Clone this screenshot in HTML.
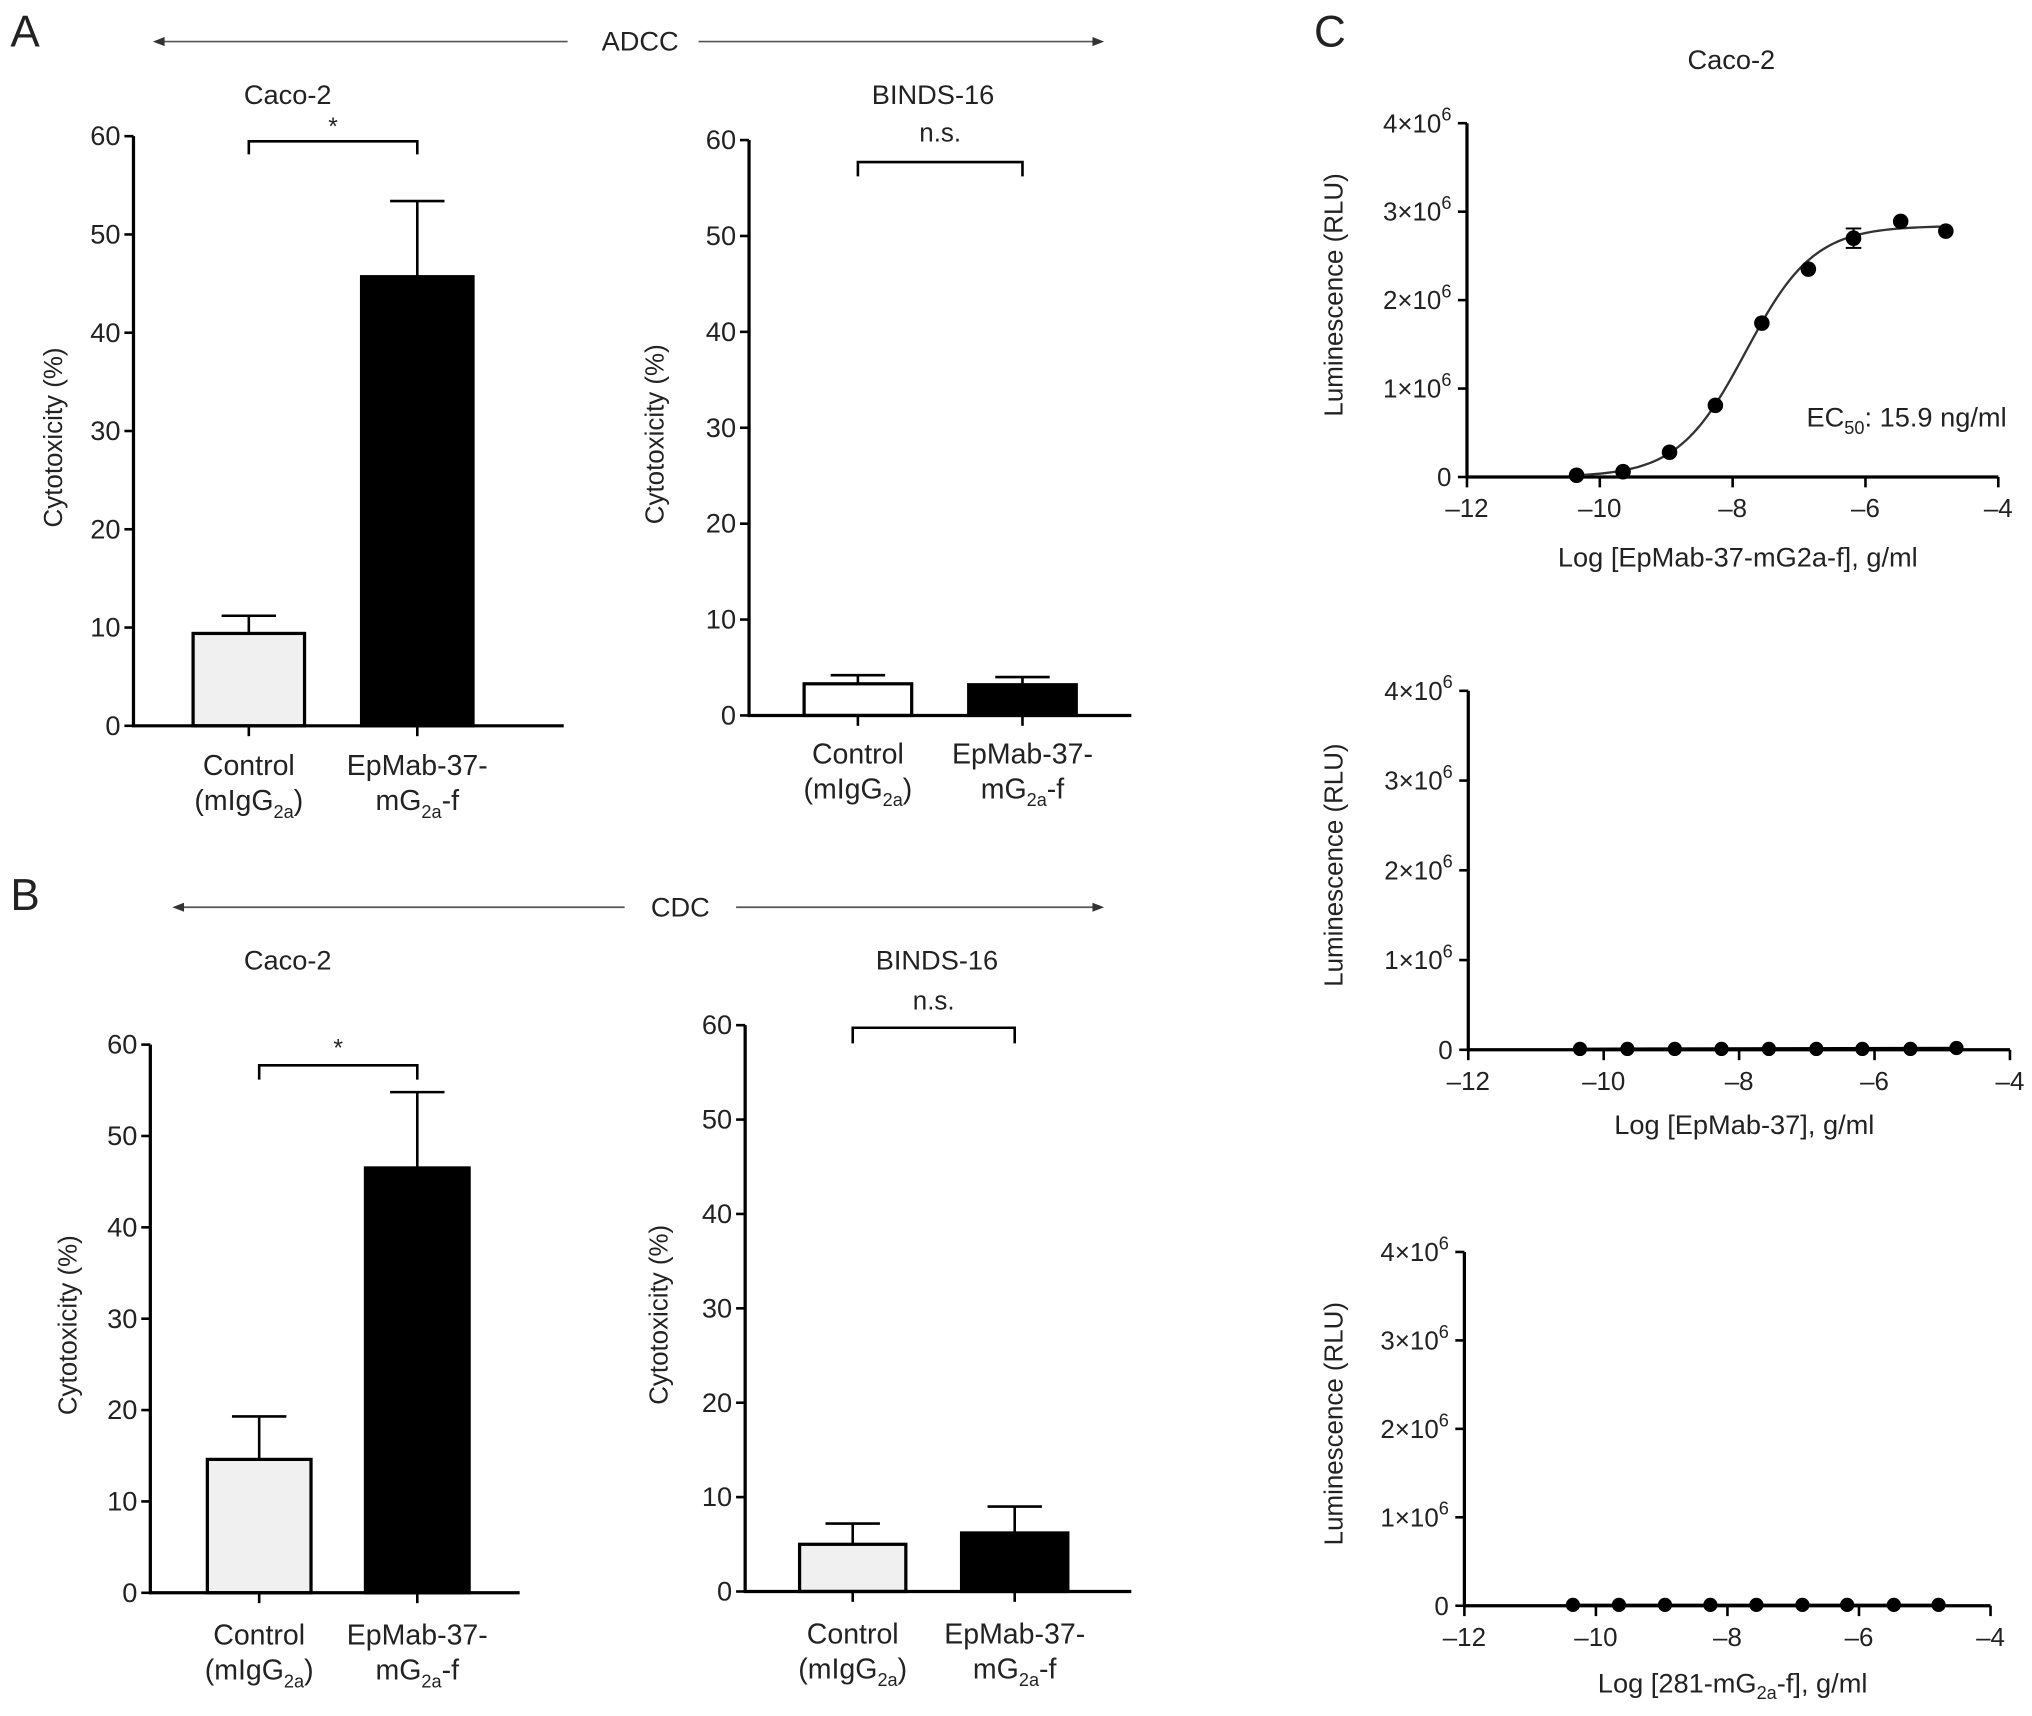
<!DOCTYPE html>
<html><head><meta charset="utf-8"><title>ADCC / CDC cytotoxicity and luminescence figure</title>
<style>
html,body{margin:0;padding:0;background:#fff;}
svg{display:block;font-family:"Liberation Sans",Arial,sans-serif;}
text{fill:#222;}
</style></head>
<body>
<svg id="fig" width="2032" height="1716" viewBox="0 0 1568 1324" xmlns="http://www.w3.org/2000/svg">
  <rect x="0" y="0" width="1568" height="1324" fill="#fff"/>
  <text x="8" y="36" font-size="34">A</text>
  <text x="8" y="702" font-size="34">B</text>
  <text x="1014" y="36" font-size="34">C</text>
  <g>
    <line x1="124" y1="32" x2="438" y2="32" stroke="#555" stroke-width="1.3"/>
    <polygon points="118,32 127,28.5 127,35.5" fill="#333"/>
    <line x1="539" y1="32" x2="846" y2="32" stroke="#555" stroke-width="1.3"/>
    <polygon points="852,32 843,28.5 843,35.5" fill="#333"/>
    <text x="494" y="39" font-size="21" text-anchor="middle">ADCC</text>
  </g>
  <g>
    <line x1="139" y1="700" x2="482" y2="700" stroke="#555" stroke-width="1.3"/>
    <polygon points="133,700 142,696.5 142,703.5" fill="#333"/>
    <line x1="568" y1="700" x2="846" y2="700" stroke="#555" stroke-width="1.3"/>
    <polygon points="852,700 843,696.5 843,703.5" fill="#333"/>
    <text x="525" y="707" font-size="21" text-anchor="middle">CDC</text>
  </g>
  <g id="bars"></g>
  <g id="curves"></g>
</svg>
<script>
// ---------- Bar chart data ----------
const groupLabels = ["Control", "EpMab-37-"];
const yTicks = [0, 10, 20, 30, 40, 50, 60];
const adccCacoMeans = [9.4, 45.7];
const adccCacoSem = [1.8, 7.7];
const adccBindsMeans = [3.3, 3.2];
const adccBindsSem = [0.9, 0.8];
const cdcCacoMeans = [14.6, 46.5];
const cdcCacoSem = [4.7, 8.3];
const cdcBindsMeans = [5.0, 6.2];
const cdcBindsSem = [2.2, 2.8];
const sigLabels = ["*", "n.s.", "*", "n.s."];
// ---------- Dose-response data ----------
const logConc = [-10.35, -9.65, -8.95, -8.26, -7.56, -6.86, -6.18, -5.47, -4.79];
const lumFc = [0.02, 0.06, 0.28, 0.81, 1.74, 2.35, 2.70, 2.89, 2.78];
const lumFcErr = [0, 0, 0, 0, 0, 0, 0.11, 0, 0];
const lumParent = [0.01, 0.01, 0.01, 0.01, 0.01, 0.01, 0.01, 0.01, 0.02];
const lumIsotype = [0.01, 0.01, 0.01, 0.01, 0.01, 0.01, 0.01, 0.01, 0.01];
const xTicksLog = [-12, -10, -8, -6, -4];
const yTicksLum = [0, 1, 2, 3, 4];
const fitTop = 2.84, fitBottom = 0, fitLogEC50 = -7.80, fitHill = 0.85;

const NS = "http://www.w3.org/2000/svg";
function mk(tag, attrs, parent) {
  const e = document.createElementNS(NS, tag);
  for (const k in attrs) e.setAttribute(k, attrs[k]);
  parent.appendChild(e);
  return e;
}
const barsG = document.getElementById("bars");
const curvesG = document.getElementById("curves");

const barPanels = [
  {key: "adcc-caco2", title: "Caco-2", means: adccCacoMeans, sem: adccCacoSem, sig: sigLabels[0],
   ax: 103, y0: 560, ytop: 105, xEnd: 435, cx: [192, 322], bw: 86, fills: ["#f0f0f0", "#000"],
   titleX: 222, titleY: 80, brY: 109, brDrop: 10, sigY: 104, ylabX: 41, labDy: 38},
  {key: "adcc-binds16", title: "BINDS-16", means: adccBindsMeans, sem: adccBindsSem, sig: sigLabels[1],
   ax: 578, y0: 552, ytop: 108, xEnd: 873, cx: [662, 789], bw: 83, fills: ["#fff", "#000"],
   titleX: 720, titleY: 80, brY: 125, brDrop: 11, sigY: 109, ylabX: 505, labDy: 37},
  {key: "cdc-caco2", title: "Caco-2", means: cdcCacoMeans, sem: cdcCacoSem, sig: sigLabels[2],
   ax: 116, y0: 1229, ytop: 806, xEnd: 401, cx: [200, 322], bw: 80, fills: ["#f0f0f0", "#000"],
   titleX: 222, titleY: 748, brY: 822, brDrop: 11, sigY: 815, ylabX: 52, labDy: 40},
  {key: "cdc-binds16", title: "BINDS-16", means: cdcBindsMeans, sem: cdcBindsSem, sig: sigLabels[3],
   ax: 575, y0: 1228, ytop: 791, xEnd: 873, cx: [658, 783], bw: 82, fills: ["#f0f0f0", "#000"],
   titleX: 723, titleY: 748, brY: 793, brDrop: 12, sigY: 779, ylabX: 508, labDy: 40}
];

barPanels.forEach(function (p) {
  const g = mk("g", {}, barsG);
  
  
  const ys = function (v) { return p.y0 - (v / 60) * (p.y0 - p.ytop); };
  const t = mk("text", {x: p.titleX, y: p.titleY, "font-size": 21, "text-anchor": "middle"}, g);
  t.textContent = p.title;
  
  
  p.means.forEach(function (m, i) {
    const top = ys(m + p.sem[i]);
    const eb = mk("line", {x1: p.cx[i], y1: ys(m), x2: p.cx[i], y2: top, stroke: "#000", "stroke-width": 2}, g);
    
    
    mk("line", {x1: p.cx[i] - 21, y1: top, x2: p.cx[i] + 21, y2: top, stroke: "#000", "stroke-width": 2}, g);
    const r = mk("rect", {x: p.cx[i] - p.bw / 2, y: ys(m), width: p.bw, height: p.y0 - ys(m),
      fill: p.fills[i], stroke: "#000", "stroke-width": 2.5}, g);
    
    
  });
  const ya = mk("line", {x1: p.ax, y1: p.ytop, x2: p.ax, y2: p.y0 + 1, stroke: "#000", "stroke-width": 2.5}, g);
  
  
  const xa = mk("line", {x1: p.ax - 1, y1: p.y0, x2: p.xEnd, y2: p.y0, stroke: "#000", "stroke-width": 2.5}, g);
  
  
  yTicks.forEach(function (v) {
    mk("line", {x1: p.ax - 7, y1: ys(v), x2: p.ax, y2: ys(v), stroke: "#000", "stroke-width": 2}, g);
    const tl = mk("text", {x: p.ax - 10, y: ys(v) + 7, "font-size": 21, "text-anchor": "end"}, g);
    tl.textContent = v;
    
    
  });
  const yl = mk("text", {x: 0, y: 0, "font-size": 20, "text-anchor": "middle",
    transform: "translate(" + (p.ylabX + 7) + "," + ((p.y0 + p.ytop) / 2 + 5) + ") rotate(-90)"}, g);
  yl.textContent = "Cytotoxicity (%)";
  
  
  p.cx.forEach(function (c, i) {
    mk("line", {x1: c, y1: p.y0, x2: c, y2: p.y0 + 8, stroke: "#000", "stroke-width": 2}, g);
    const l1 = mk("text", {x: c, y: p.y0 + p.labDy, "font-size": 22, "text-anchor": "middle"}, g);
    l1.textContent = groupLabels[i];
    
    
    const l2 = mk("text", {x: c, y: p.y0 + p.labDy + 27, "font-size": 22, "text-anchor": "middle"}, g);
    if (i === 0) {
      l2.innerHTML = '(mIgG<tspan font-size="14" dy="6">2a</tspan><tspan dy="-6">)</tspan>';
    } else {
      l2.innerHTML = 'mG<tspan font-size="14" dy="6">2a</tspan><tspan dy="-6">-f</tspan>';
    }
  });
  const br = mk("path", {d: "M" + p.cx[0] + "," + (p.brY + p.brDrop) + " V" + p.brY + " H" + p.cx[1] + " V" + (p.brY + p.brDrop),
    fill: "none", stroke: "#000", "stroke-width": 2}, g);
  
  
  const st = mk("text", {x: (p.cx[0] + p.cx[1]) / 2, y: p.sigY, "font-size": p.sig === "*" ? 19 : 20, "text-anchor": "middle"}, g);
  st.textContent = p.sig;
  
  
});

const curvePanels = [
  {key: "epmab37-mg2a-f", vals: lumFc, err: lumFcErr, fit: true, ax: 1132, y0: 368, y4: 95, xR: 1542,
   xlab: 'Log [EpMab-37-mG2a-f], g/ml', xlabY: 437, title: "Caco-2", r: 6},
  {key: "epmab37", vals: lumParent, err: null, fit: false, ax: 1133, y0: 810, y4: 533, xR: 1551,
   xlab: 'Log [EpMab-37], g/ml', xlabY: 875, r: 5.5},
  {key: "281-mg2a-f", vals: lumIsotype, err: null, fit: false, ax: 1130, y0: 1239, y4: 966, xR: 1536,
   xlab: 'Log [281-mG<tspan font-size="14" dy="5">2a</tspan><tspan dy="-5">-f], g/ml</tspan>', xlabY: 1306, r: 5.5}
];

curvePanels.forEach(function (p) {
  const g = mk("g", {}, curvesG);
  
  
  const xs = function (v) { return p.ax + (v + 12) / 8 * (p.xR - p.ax); };
  const ys = function (v) { return p.y0 - v / 4 * (p.y0 - p.y4); };
  if (p.title) {
    const t = mk("text", {x: 1336, y: 53, "font-size": 21, "text-anchor": "middle"}, g);
    t.textContent = p.title;
    
    
  }
  const ya = mk("line", {x1: p.ax, y1: p.y4, x2: p.ax, y2: p.y0 + 1, stroke: "#000", "stroke-width": 2.5}, g);
  
  
  const xa = mk("line", {x1: p.ax - 1, y1: p.y0, x2: p.xR, y2: p.y0, stroke: "#000", "stroke-width": 2.5}, g);
  
  
  yTicksLum.forEach(function (v) {
    mk("line", {x1: p.ax - 7, y1: ys(v), x2: p.ax, y2: ys(v), stroke: "#000", "stroke-width": 2}, g);
    const tl = mk("text", {x: p.ax - 12, y: ys(v) + 7, "font-size": 20, "text-anchor": "end"}, g);
    if (v === 0) tl.textContent = "0";
    else tl.innerHTML = v + '×10<tspan font-size="14" dy="-9">6</tspan>';
    
    
  });
  xTicksLog.forEach(function (v) {
    mk("line", {x1: xs(v), y1: p.y0, x2: xs(v), y2: p.y0 + 8, stroke: "#000", "stroke-width": 2}, g);
    const tl = mk("text", {x: xs(v), y: p.y0 + 31, "font-size": 20, "text-anchor": "middle"}, g);
    tl.textContent = "\u2013" + Math.abs(v);
    
    
  });
  const xl = mk("text", {x: (p.ax + p.xR) / 2 + 4, y: p.xlabY, "font-size": 21, "text-anchor": "middle"}, g);
  xl.innerHTML = p.xlab;
  
  
  const yl = mk("text", {x: 0, y: 0, "font-size": 20, "text-anchor": "middle",
    transform: "translate(1036," + ((p.y0 + p.y4) / 2 - 4) + ") rotate(-90)"}, g);
  yl.textContent = "Luminescence (RLU)";
  
  
  if (p.fit) {
    let d = "";
    const x0 = logConc[0], x1 = logConc[logConc.length - 1];
    for (let i = 0; i <= 120; i++) {
      const lx = x0 + (x1 - x0) * i / 120;
      const yv = fitBottom + (fitTop - fitBottom) / (1 + Math.pow(10, (fitLogEC50 - lx) * fitHill));
      d += (i ? "L" : "M") + xs(lx).toFixed(2) + "," + ys(yv).toFixed(2);
    }
    const c = mk("path", {d: d, fill: "none", stroke: "#333", "stroke-width": 1.8}, g);
    
    
    const ec = mk("text", {x: 1394, y: 329, "font-size": 21}, g);
    ec.innerHTML = 'EC<tspan font-size="14" dy="6">50</tspan><tspan dy="-6">: 15.9 ng/ml</tspan>';
    
    
  } else {
    const c = mk("path", {d: "M" + xs(logConc[0]) + "," + ys(p.vals[0]) + " L" + xs(logConc[logConc.length - 1]) + "," + ys(p.vals[p.vals.length - 1]),
      fill: "none", stroke: "#000", "stroke-width": 2}, g);
    
    
  }
  logConc.forEach(function (lx, i) {
    if (p.err && p.err[i] > 0) {
      const yt = ys(p.vals[i] + p.err[i]), yb = ys(p.vals[i] - p.err[i]);
      mk("line", {x1: xs(lx), y1: yt, x2: xs(lx), y2: yb, stroke: "#000", "stroke-width": 1.5}, g);
      mk("line", {x1: xs(lx) - 6, y1: yt, x2: xs(lx) + 6, y2: yt, stroke: "#000", "stroke-width": 1.5}, g);
      mk("line", {x1: xs(lx) - 6, y1: yb, x2: xs(lx) + 6, y2: yb, stroke: "#000", "stroke-width": 1.5}, g);
    }
    const pt = mk("circle", {cx: xs(lx), cy: ys(p.vals[i]), r: p.r, fill: "#000"}, g);
    
    
  });
});
</script>
</body></html>
